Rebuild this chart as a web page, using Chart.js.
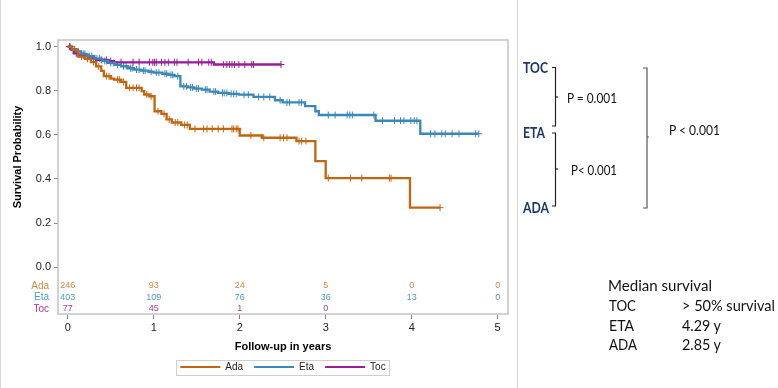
<!DOCTYPE html>
<html>
<head>
<meta charset="utf-8">
<script src="https://cdn.jsdelivr.net/npm/chart.js@4.4.1/dist/chart.umd.min.js"></script>
<style>
  body { margin: 0; background: #fff; }
  #wrap { position: relative; width: 778px; height: 388px; overflow: hidden; }
  #plot { position: absolute; left: 0; top: 0; width: 518px; height: 388px;
          border-left: 1px solid #d4d4d4; border-right: 1px solid #d4d4d4; box-sizing: border-box; }
  #notes { position: absolute; left: 0; top: 0; }
</style>
</head>
<body>
<div id="wrap">
  <div id="plot"><canvas id="km" width="516" height="388"></canvas></div>
  <svg id="notes" width="778" height="388" xmlns="http://www.w3.org/2000/svg">
    <g font-family="Lato, 'Open Sans', sans-serif" font-weight="bold" font-size="14.5" fill="#203864">
      <text x="523" y="73" textLength="25" lengthAdjust="spacingAndGlyphs">TOC</text>
      <text x="523" y="138" textLength="22" lengthAdjust="spacingAndGlyphs">ETA</text>
      <text x="523" y="213" textLength="26" lengthAdjust="spacingAndGlyphs">ADA</text>
    </g>
    <g stroke="#222" stroke-width="1.2" fill="none">
      <polyline points="552,67.5 555.5,67.5 555.5,126 552,126"/>
      <line x1="555.5" y1="97" x2="558" y2="97"/>
      <polyline points="552,133 555.5,133 555.5,206 552,206"/>
      <line x1="555.5" y1="169" x2="558" y2="169"/>
    </g>
    <g stroke="#555" stroke-width="1.2" fill="none">
      <polyline points="643,68 647,68 647,208 643,208"/>
      <line x1="647" y1="137" x2="649" y2="137"/>
    </g>
    <g font-family="Lato, 'Open Sans', sans-serif" font-size="12.5" fill="#111">
      <text x="567" y="103" textLength="50" lengthAdjust="spacingAndGlyphs">P = 0.001</text>
      <text x="571" y="175" textLength="46" lengthAdjust="spacingAndGlyphs">P&lt; 0.001</text>
      <text x="669" y="135" textLength="51" lengthAdjust="spacingAndGlyphs">P &lt; 0.001</text>
    </g>
    <g font-family="Lato, 'Open Sans', sans-serif" font-size="16" fill="#111">
      <text x="608" y="291" textLength="104" lengthAdjust="spacingAndGlyphs">Median survival</text>
      <text x="609" y="311" textLength="27" lengthAdjust="spacingAndGlyphs">TOC</text>
      <text x="682" y="311" textLength="93" lengthAdjust="spacingAndGlyphs">&gt; 50% survival</text>
      <text x="609" y="331" textLength="25" lengthAdjust="spacingAndGlyphs">ETA</text>
      <text x="682" y="331" textLength="39" lengthAdjust="spacingAndGlyphs">4.29 y</text>
      <text x="609" y="350" textLength="28" lengthAdjust="spacingAndGlyphs">ADA</text>
      <text x="682" y="350" textLength="39" lengthAdjust="spacingAndGlyphs">2.85 y</text>
    </g>
  </svg>
</div>
<script>
// Kaplan-Meier steps (time in years, survival after each drop)
const adaTimes = [0, 0.05, 0.12, 0.2, 0.27, 0.33, 0.39, 0.42, 0.5, 0.54, 0.62, 0.68, 0.86, 0.89, 0.95, 1.01, 1.09, 1.15, 1.21, 1.32, 1.42, 2.0, 2.26, 2.66, 2.88, 3.0, 3.98];
const adaSurv  = [1.0, 0.985, 0.955, 0.945, 0.93, 0.91, 0.89, 0.866, 0.855, 0.85, 0.84, 0.813, 0.798, 0.783, 0.775, 0.707, 0.695, 0.67, 0.656, 0.645, 0.627, 0.597, 0.587, 0.572, 0.481, 0.404, 0.27];
const adaEnd = 4.33;
const adaCensor = [0.08, 0.16, 0.23, 0.3, 0.36, 0.45, 0.48, 0.58, 0.6, 0.65, 0.72, 0.76, 0.8, 0.83, 0.92, 0.97, 1.05, 1.12, 1.18, 1.25, 1.28, 1.36, 1.39, 1.48, 1.58, 1.62, 1.68, 1.75, 1.81, 1.91, 1.93, 1.96, 1.98, 2.13, 2.28, 2.47, 2.51, 2.55, 2.69, 2.72, 2.77, 3.03, 3.29, 3.42, 3.74, 3.76, 4.33];

const etaTimes = [0, 0.05, 0.1, 0.155, 0.22, 0.31, 0.4, 0.47, 0.55, 0.62, 0.7, 0.77, 0.85, 0.94, 1.0, 1.1, 1.17, 1.24, 1.31, 1.4, 1.47, 1.56, 1.65, 1.75, 1.87, 1.99, 2.16, 2.41, 2.5, 2.76, 2.88, 2.92, 3.58, 4.1];
const etaSurv  = [1.0, 0.988, 0.978, 0.967, 0.957, 0.946, 0.935, 0.926, 0.917, 0.911, 0.902, 0.896, 0.891, 0.886, 0.882, 0.877, 0.872, 0.866, 0.82, 0.815, 0.81, 0.805, 0.796, 0.79, 0.786, 0.782, 0.772, 0.757, 0.747, 0.73, 0.707, 0.69, 0.664, 0.605];
const etaEnd = 4.78;
const etaCensor = [0.03, 0.08, 0.12, 0.18, 0.2, 0.25, 0.28, 0.34, 0.37, 0.43, 0.45, 0.5, 0.53, 0.58, 0.65, 0.68, 0.73, 0.75, 0.8, 0.83, 0.88, 0.9, 0.97, 1.03, 1.06, 1.13, 1.15, 1.2, 1.22, 1.28, 1.35, 1.38, 1.43, 1.45, 1.5, 1.52, 1.6, 1.62, 1.7, 1.72, 1.8, 1.82, 1.85, 1.9, 1.93, 1.96, 2.05, 2.1, 2.22, 2.28, 2.35, 2.47, 2.55, 2.58, 2.69, 2.72, 3.03, 3.11, 3.25, 3.28, 3.31, 3.56, 3.66, 3.8, 3.87, 3.91, 3.99, 4.03, 4.06, 4.22, 4.27, 4.35, 4.39, 4.47, 4.55, 4.74, 4.78];

const tocTimes = [0, 0.04, 0.07, 0.12, 0.24, 0.33, 0.47, 0.54, 1.7];
const tocSurv  = [1.0, 0.987, 0.97, 0.96, 0.947, 0.94, 0.934, 0.929, 0.919];
const tocEnd = 2.48;
const tocCensor = [0.02, 0.1, 0.18, 0.3, 0.39, 0.45, 0.5, 0.62, 0.76, 0.83, 0.95, 0.99, 1.01, 1.03, 1.09, 1.13, 1.17, 1.24, 1.27, 1.4, 1.52, 1.56, 1.64, 1.67, 1.81, 1.85, 1.88, 1.91, 1.94, 1.99, 2.06, 2.14, 2.16, 2.48];

// numbers at risk
const riskTimes = [0, 1, 2, 3, 4, 5];
const adaRisk = [246, 93, 24, 5, 0, 0];
const etaRisk = [403, 109, 76, 36, 13, 0];
const tocRisk = [77, 45, 1, 0];

const xTicks = [0, 1, 2, 3, 4, 5];
const yTicks = [0, 0.2, 0.4, 0.6, 0.8, 1.0];

const groups = [
  { name: 'Ada', times: adaTimes, surv: adaSurv, end: adaEnd, censor: adaCensor, risk: adaRisk, color: '#c0660f', text: '#d08a45' },
  { name: 'Eta', times: etaTimes, surv: etaSurv, end: etaEnd, censor: etaCensor, risk: etaRisk, color: '#3a88b8', text: '#4f9bc8' },
  { name: 'Toc', times: tocTimes, surv: tocSurv, end: tocEnd, censor: tocCensor, risk: tocRisk, color: '#981e98', text: '#a43aa4' }
];

function survAt(g, t) {
  let s = g.surv[0];
  for (let i = 0; i < g.times.length; i++) {
    if (g.times[i] <= t) s = g.surv[i];
  }
  return s;
}

const datasets = [];
groups.forEach(g => {
  const pts = g.times.map((t, i) => ({ x: t, y: g.surv[i] }));
  pts.push({ x: g.end, y: g.surv[g.surv.length - 1] });
  datasets.push({
    label: g.name, data: pts, showLine: true, stepped: 'before',
    borderColor: g.color, backgroundColor: g.color, borderWidth: 2.3,
    pointRadius: 0, fill: false
  });
});
groups.forEach(g => {
  datasets.push({
    label: g.name + ' censored', data: g.censor.map(t => ({ x: t, y: survAt(g, t) })),
    showLine: false, pointStyle: 'cross', pointRadius: 3.5, borderWidth: 1,
    borderColor: g.color, backgroundColor: g.color
  });
});

const tickFont = { family: "'Liberation Sans', Arial, sans-serif", size: 11 };

const extras = {
  id: 'extras',
  afterLayout(chart) {
    // centre the legend under the plot area, not the canvas
    const lg = chart.legend;
    const shift = (chart.chartArea.left + chart.chartArea.right) / 2 - (lg.left + lg.right) / 2;
    lg.left += shift; lg.right += shift;
    lg.top -= 3; lg.bottom -= 3;
  },
  beforeDraw(chart) {
    const c = chart.ctx;
    c.save();
    c.fillStyle = '#fff';
    c.fillRect(0, 0, chart.width, chart.height);
    c.restore();
  },
  afterDraw(chart) {
    const c = chart.ctx, a = chart.chartArea, xs = chart.scales.x;
    c.save();
    // frame
    c.strokeStyle = '#c4c4c4';
    c.lineWidth = 1.5;
    c.strokeRect(a.left, a.top, a.right - a.left, a.bottom - a.top);
    // y title
    c.fillStyle = '#000';
    c.font = "bold 11px 'Liberation Sans', Arial, sans-serif";
    c.translate(17, 157);
    c.rotate(-Math.PI / 2);
    c.textAlign = 'center';
    c.textBaseline = 'middle';
    c.fillText('Survival Probability', 0, 0);
    c.restore();
    // at-risk table
    c.save();
    const rowY = [286, 297.5, 309];
    groups.forEach((g, r) => {
      c.fillStyle = g.text;
      c.textBaseline = 'middle';
      c.font = "10px 'Liberation Sans', Arial, sans-serif";
      c.textAlign = 'right';
      c.fillText(g.name, 48, rowY[r]);
      c.font = "9px 'Liberation Sans', Arial, sans-serif";
      c.textAlign = 'center';
      g.risk.forEach((n, i) => {
        c.fillText(String(n), xs.getPixelForValue(riskTimes[i]), rowY[r]);
      });
    });
    // legend border
    const hb = chart.legend.legendHitBoxes;
    if (hb && hb.length) {
      const l = Math.min(...hb.map(h => h.left)) - 4;
      const r = Math.max(...hb.map(h => h.left + h.width)) + 4;
      const t = hb[0].top - 2.5, b = hb[0].top + hb[0].height + 2.5;
      c.strokeStyle = '#cfcfcf';
      c.lineWidth = 1;
      c.strokeRect(Math.round(l) + 0.5, Math.round(t) + 0.5, Math.round(r - l), Math.round(b - t));
    }
    c.restore();
  }
};

new Chart(document.getElementById('km'), {
  type: 'scatter',
  data: { datasets: datasets },
  options: {
    responsive: false,
    animation: false,
    layout: { padding: { top: 40, right: 9, left: 0, bottom: 3 } },
    scales: {
      x: {
        type: 'linear', min: -0.113, max: 5.12,
        afterBuildTicks: s => { s.ticks = xTicks.map(v => ({ value: v })); },
        afterFit: s => { s.height = 40; },
        grid: { drawOnChartArea: false, drawTicks: true, tickLength: 5, color: '#888' },
        border: { display: false },
        ticks: { font: tickFont, color: '#222', padding: 2, callback: v => String(v) },
        title: { display: true, text: 'Follow-up in years', color: '#000',
                 font: { family: "'Liberation Sans', Arial, sans-serif", size: 11, weight: 'bold' }, padding: { top: 4, bottom: 0 } }
      },
      y: {
        type: 'linear', min: -0.212, max: 1.03,
        afterBuildTicks: s => { s.ticks = yTicks.map(v => ({ value: v })); },
        afterFit: s => { s.width = 57; },
        grid: { drawOnChartArea: false, drawTicks: true, tickLength: 4, color: '#888' },
        border: { display: false },
        ticks: { font: tickFont, color: '#222', padding: 3, callback: v => v.toFixed(1) }
      }
    },
    plugins: {
      tooltip: { enabled: false },
      legend: {
        position: 'bottom',
        labels: {
          font: { family: "'Liberation Sans', Arial, sans-serif", size: 10 },
          color: '#222', boxWidth: 40, boxHeight: 2, padding: 11,
          filter: item => !item.text.includes('censored'),
          generateLabels: chart => chart.data.datasets.map((d, i) => ({
            text: d.label, fillStyle: d.borderColor, strokeStyle: d.borderColor,
            lineWidth: 0, hidden: false, datasetIndex: i, fontColor: '#222'
          }))
        }
      }
    }
  },
  plugins: [extras]
});
</script>
</body>
</html>
